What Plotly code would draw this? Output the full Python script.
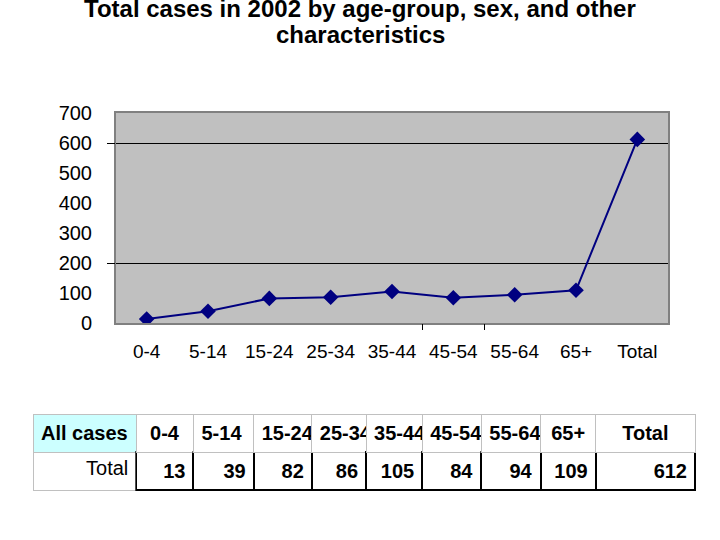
import plotly.graph_objects as go

categories = ["0-4", "5-14", "15-24", "25-34", "35-44", "45-54", "55-64", "65+", "Total"]
cases = [13, 39, 82, 86, 105, 84, 94, 109, 612]
y_ticks = [0, 100, 200, 300, 400, 500, 600, 700]
grid_values = [200, 600]
x_minor_ticks = [4.5, 5.5]
row_header = "All\u00a0cases"
row_label = "Total"
title_lines = ["Total cases in 2002 by age-group, sex, and other", "characteristics"]

W, H = 720, 540
FONT = "Liberation Sans, Arial, sans-serif"
NAVY = "#000080"


def px_x(p):
    return p / W


def px_y(p):
    return 1 - p / H


fig = go.Figure()

fig.add_trace(go.Scatter(
    x=categories, y=cases, mode="lines+markers",
    line=dict(color=NAVY, width=2),
    marker=dict(symbol="diamond", size=12, color=NAVY),
    showlegend=False, hoverinfo="skip", xaxis="x", yaxis="y",
))

# table
col_widths = [103, 57, 60, 58, 54, 56, 59, 59, 55, 99]
header_vals = [row_header] + categories
header_align = ["left", "center", "left", "left", "left", "left", "left", "left", "center", "center"]
cell_vals = [[row_label]] + [[f"<b>{v}</b>"] for v in cases]
line_colors = ["#C0C0C0"] + ["black"] * len(cases)
line_widths = [1] + [2] * len(cases)

fig.add_trace(go.Table(
    domain=dict(x=[px_x(33), px_x(695)], y=[px_y(500), px_y(414)]),
    columnwidth=col_widths,
    header=dict(
        values=[f"<b>{h}</b>" for h in header_vals],
        align=header_align,
        fill=dict(color=["#CCFFFF"] + ["white"] * len(categories)),
        line=dict(color="#C0C0C0", width=1),
        font=dict(family=FONT, size=20, color="black"),
        height=30,
    ),
    cells=dict(
        values=cell_vals,
        align="right",
        fill=dict(color="white"),
        line=dict(color=line_colors, width=line_widths),
        font=dict(family=FONT, size=20, color="black"),
        height=37,
    ),
))

x_dom = [px_x(116), px_x(668)]
y_dom = [px_y(323), px_y(113)]

title_annots = [
    dict(text=f"<b>{t}</b>", x=0.5, xref="paper", y=px_y(c), yref="paper",
         yanchor="middle", showarrow=False,
         font=dict(family=FONT, size=24, color="black"))
    for t, c in zip(title_lines, [8, 35])
]

fig.update_layout(
    width=W, height=H,
    margin=dict(l=0, r=0, t=0, b=0, autoexpand=False),
    paper_bgcolor="white",
    plot_bgcolor="#C0C0C0",
    font=dict(family=FONT, color="black"),
    xaxis=dict(
        domain=x_dom, anchor="y", type="category", range=[-0.5, 8.5],
        showgrid=False, zeroline=False, ticks="", automargin=False,
        tickfont=dict(size=19, family=FONT), ticklabelstandoff=10,
        showline=True, linecolor="#808080", linewidth=2, mirror=True,
    ),
    yaxis=dict(
        domain=y_dom, anchor="x", range=[0, 700], automargin=False,
        tickvals=y_ticks, showgrid=False, zeroline=False, ticks="",
        tickfont=dict(size=20, family=FONT), ticklabelstandoff=18,
        showline=True, linecolor="#808080", linewidth=2, mirror=True,
    ),
    xaxis2=dict(
        domain=x_dom, anchor="y2", overlaying="x", range=[-0.5, 8.5], automargin=False,
        tickvals=x_minor_ticks, showticklabels=False, ticks="outside",
        ticklen=6, tickcolor="black", tickwidth=1, showgrid=False, zeroline=False,
        side="bottom",
    ),
    yaxis2=dict(
        domain=y_dom, anchor="x2", overlaying="y", range=[0, 700], automargin=False,
        tickvals=grid_values, showticklabels=False, ticks="outside",
        ticklen=8, tickcolor="black", tickwidth=1,
        showgrid=True, gridcolor="black", gridwidth=1, zeroline=False,
    ),
    annotations=title_annots,
)

fig.add_trace(go.Scatter(x=[None], y=[None], xaxis="x2", yaxis="y2",
                         showlegend=False, hoverinfo="skip"))

fig.write_html("out.html", config={"displayModeBar": False},
               post_script="document.body.style.margin='0';")
